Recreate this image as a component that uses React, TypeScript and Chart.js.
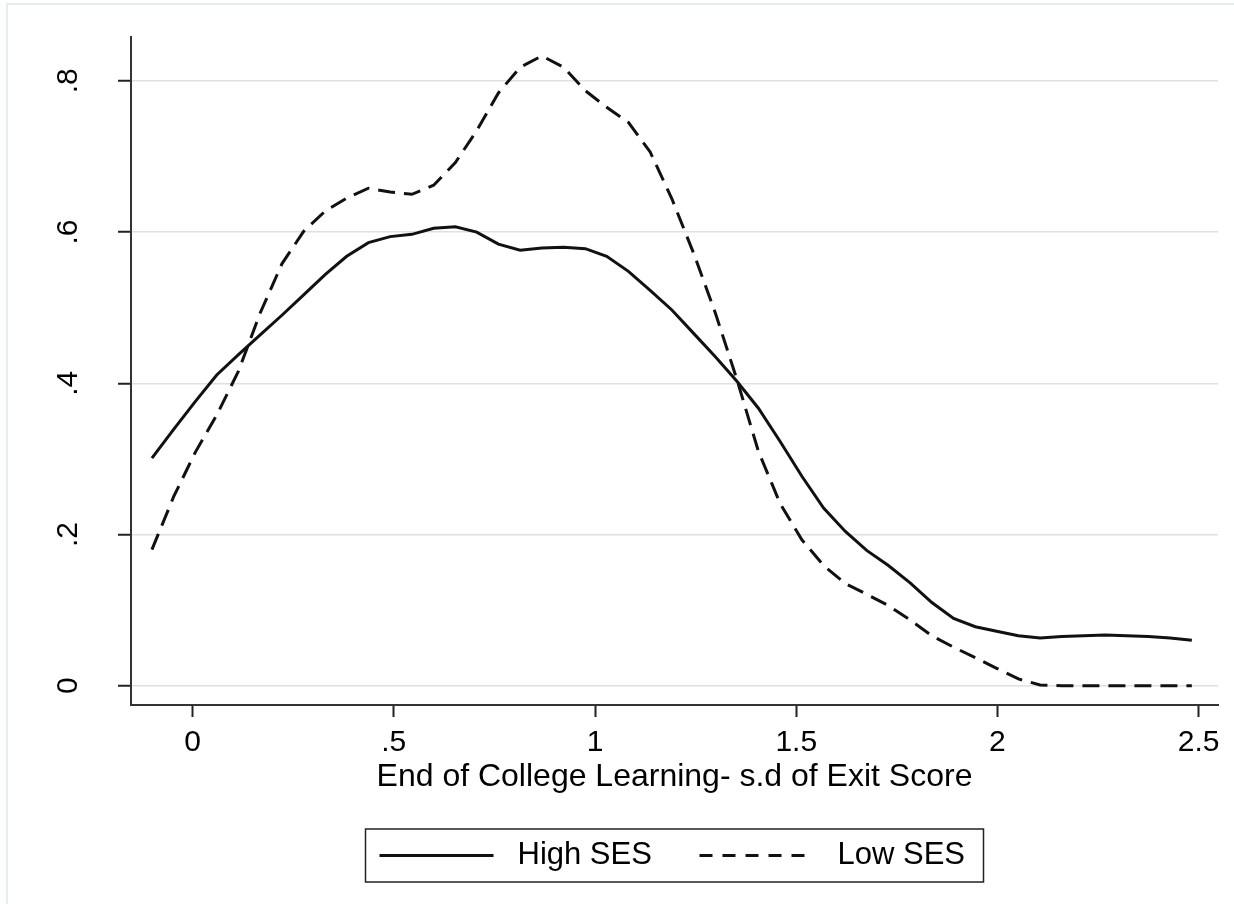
import React, { useEffect, useRef } from "react";
import { Chart, registerables } from "chart.js";

Chart.register(...registerables);

// ---- data ----
const xGrid = [
  -0.101, -0.047, 0.007, 0.06, 0.114, 0.168, 0.222, 0.276, 0.33, 0.383,
  0.437, 0.491, 0.545, 0.599, 0.653, 0.706, 0.76, 0.814, 0.868, 0.922,
  0.976, 1.029, 1.083, 1.137, 1.191, 1.245, 1.299, 1.352, 1.406, 1.46,
  1.514, 1.568, 1.622, 1.675, 1.729, 1.783, 1.837, 1.891, 1.945, 1.998,
  2.052, 2.106, 2.16, 2.214, 2.268, 2.321, 2.375, 2.429, 2.483,
];
const highSES = [
  0.301, 0.339, 0.376, 0.411, 0.438, 0.464, 0.49, 0.517, 0.544, 0.568,
  0.586, 0.594, 0.597, 0.605, 0.607, 0.6, 0.584, 0.576, 0.579, 0.58,
  0.578, 0.568, 0.548, 0.523, 0.497, 0.466, 0.435, 0.403, 0.367, 0.323,
  0.277, 0.235, 0.204, 0.179, 0.159, 0.136, 0.11, 0.089, 0.078, 0.072,
  0.066, 0.063, 0.065, 0.066, 0.067, 0.066, 0.065, 0.063, 0.06,
];
const lowSES = [
  0.18, 0.25, 0.309, 0.358, 0.416, 0.493, 0.558, 0.601, 0.628, 0.645,
  0.658, 0.653, 0.65, 0.662, 0.692, 0.734, 0.784, 0.818, 0.833, 0.818,
  0.787, 0.765, 0.745, 0.706, 0.644, 0.572, 0.493, 0.406, 0.31, 0.241,
  0.193, 0.159, 0.135, 0.121, 0.106, 0.087, 0.066, 0.051, 0.037, 0.023,
  0.009, 0.001, 0, 0, 0, 0, 0, 0, 0,
];
const seriesLabels = ["High SES", "Low SES"];
const xTickValues = [0, 0.5, 1, 1.5, 2, 2.5];
const xTickLabels = ["0", ".5", "1", "1.5", "2", "2.5"];
const yTickValues = [0, 0.2, 0.4, 0.6, 0.8];
const yTickLabels = ["0", ".2", ".4", ".6", ".8"];
const xTitle = "End of College Learning- s.d of Exit Score";

const FONT = '"Liberation Sans", Arial, Helvetica, sans-serif';

const framePlugin = {
  id: "stataFrame",
  beforeDraw(chart: any) {
    const ctx = chart.ctx;
    ctx.save();
    ctx.fillStyle = "#ffffff";
    ctx.fillRect(0, 0, chart.width, chart.height);
    ctx.strokeStyle = "#e6edf0";
    ctx.lineWidth = 2;
    ctx.strokeRect(7, 4, chart.width + 20, chart.height + 20);
    ctx.restore();
  },
};

const legendPlugin = {
  id: "stataLegend",
  afterDraw(chart: any) {
    const ctx = chart.ctx;
    const ca = chart.chartArea;
    const cx = (ca.left + ca.right) / 2;
    const w = 618;
    const h = 53;
    const top = 829;
    const left = cx - w / 2;
    ctx.save();
    ctx.strokeStyle = "#222";
    ctx.lineWidth = 1.5;
    ctx.setLineDash([]);
    ctx.strokeRect(left, top, w, h);
    const midY = top + h / 2;
    ctx.font = `31px ${FONT}`;
    ctx.textBaseline = "middle";
    ctx.textAlign = "left";
    ctx.fillStyle = "#000";
    const offsets = [14, 334];
    chart.data.datasets.forEach((ds: any, i: number) => {
      const x0 = left + offsets[i];
      ctx.beginPath();
      ctx.setLineDash(ds.borderDash && ds.borderDash.length ? [13, 10] : []);
      ctx.lineWidth = 3;
      ctx.strokeStyle = ds.borderColor;
      ctx.moveTo(x0, midY);
      ctx.lineTo(x0 + 114, midY);
      ctx.stroke();
      ctx.setLineDash([]);
      ctx.fillText(ds.label, x0 + 138, midY);
    });
    ctx.restore();
  },
};

export default function App() {
  const canvasRef = useRef<HTMLCanvasElement | null>(null);

  useEffect(() => {
    const canvas = canvasRef.current;
    if (!canvas) return;
    const chart = new Chart(canvas, {
      type: "line",
      data: {
        datasets: [
          {
            label: seriesLabels[0],
            data: xGrid.map((x, i) => ({ x, y: highSES[i] })),
            borderColor: "#111111",
            borderWidth: 3,
            pointRadius: 0,
            tension: 0,
            fill: false,
          },
          {
            label: seriesLabels[1],
            data: xGrid.map((x, i) => ({ x, y: lowSES[i] })),
            borderColor: "#111111",
            borderWidth: 3,
            borderDash: [17, 9],
            pointRadius: 0,
            tension: 0,
            fill: false,
          },
        ],
      },
      options: {
        responsive: false,
        animation: false,
        devicePixelRatio: 1,
        layout: { padding: { left: 0, top: 37, right: 16, bottom: 0 } },
        plugins: {
          legend: { display: false },
          tooltip: { enabled: false },
          title: { display: false },
        },
        scales: {
          x: {
            type: "linear",
            min: -0.153,
            max: 2.548,
            afterBuildTicks: (scale: any) => {
              scale.ticks = xTickValues.map((v) => ({ value: v }));
            },
            afterFit: (scale: any) => {
              scale.height = 199;
              scale.paddingLeft = 0;
              scale.paddingRight = 0;
            },
            ticks: {
              autoSkip: false,
              maxRotation: 0,
              minRotation: 0,
              padding: 8,
              color: "#000",
              font: { family: FONT, size: 30 },
              callback: (v: any) => {
                const i = xTickValues.indexOf(Number(v));
                return i >= 0 ? xTickLabels[i] : "";
              },
            },
            grid: {
              display: true,
              drawOnChartArea: false,
              drawTicks: true,
              tickLength: 12,
              tickColor: "#222",
              tickWidth: 2,
            },
            border: { display: true, color: "#333", width: 2 },
            title: {
              display: true,
              text: xTitle,
              color: "#000",
              font: { family: FONT, size: 32 },
              padding: { top: 0, bottom: 108 },
            },
          },
          y: {
            type: "linear",
            min: -0.0255,
            max: 0.858,
            afterBuildTicks: (scale: any) => {
              scale.ticks = yTickValues.map((v) => ({ value: v }));
            },
            afterFit: (scale: any) => {
              scale.width = 131;
              scale.paddingTop = 0;
              scale.paddingBottom = 0;
            },
            ticks: {
              autoSkip: false,
              minRotation: 90,
              maxRotation: 90,
              crossAlign: "center",
              padding: 37,
              color: "#000",
              font: { family: FONT, size: 30 },
              callback: (v: any) => {
                const i = yTickValues.indexOf(Number(v));
                return i >= 0 ? yTickLabels[i] : "";
              },
            },
            grid: {
              display: true,
              drawOnChartArea: true,
              color: "#e0e0e0",
              lineWidth: 1.5,
              drawTicks: true,
              tickLength: 13,
              tickColor: "#222",
              tickWidth: 2,
            },
            border: { display: true, color: "#333", width: 2 },
          },
        },
      } as any,
      plugins: [framePlugin, legendPlugin],
    });
    return () => chart.destroy();
  }, []);

  return (
    <div style={{ position: "fixed", left: 0, top: 0, width: 1234, height: 904 }}>
      <canvas ref={canvasRef} width={1234} height={904} style={{ display: "block" }} />
    </div>
  );
}
